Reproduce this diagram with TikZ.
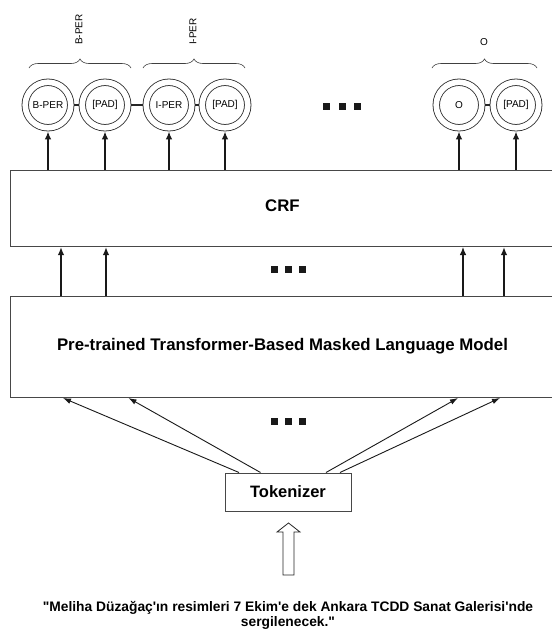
\documentclass[tikz,border=0pt]{standalone}
\usepackage{fontspec}
\setmainfont{Liberation Sans}[Ligatures=TeXOff]
\usetikzlibrary{arrows.meta,decorations.pathreplacing,calc}
\begin{document}
\begin{tikzpicture}[x=1pt,y=-1pt,
  boxline/.style={draw=black!72, line width=1pt},
  bigtext/.style={font=\bfseries\fontsize{16.8}{20}\selectfont, inner sep=0},
  layer/.style={boxline, inner sep=0, anchor=north west},
  tag/.style={circle, draw=black!85, line width=0.8pt, double=white, double distance=5.7pt,
    minimum size=45.5pt, inner sep=0, outer sep=3.6pt, font=\fontsize{10}{12}\selectfont},
  up/.style={draw=black!90, line width=1.6pt, -{Latex[length=8pt,width=6.5pt]}},
  thin up/.style={draw=black!90, line width=0.9pt, -{Latex[length=8pt,width=5.5pt]}},
  link/.style={draw=black!85, line width=1.4pt},
  dot/.style={fill=black!90, minimum size=7pt, inner sep=0},
  grp/.style={draw=black!75, line width=0.6pt, decorate, decoration={brace, amplitude=9pt}},
  grplabel/.style={font=\fontsize{10}{12}\selectfont, inner sep=0}
]
\useasboundingbox (0,0) rectangle (552,630);
\fill[white] (0,0) rectangle (552,630);

% tag circles
\node[tag] (b1) at (48,105) {B-PER};
\node[tag] (p1) at (105,105) {[PAD]};
\node[tag] (i1) at (169,105) {I-PER};
\node[tag] (p2) at (225,105) {[PAD]};
\node[tag] (o1) at (459,105) {O};
\node[tag] (p3) at (516,105) {[PAD]};
\draw[link] (b1) -- (p1);
\draw[link, line width=1.9pt] (p1) -- (i1);
\draw[link] (i1) -- (p2);
\draw[link] (o1) -- (p3);

% dots top
\node[dot] (td1) at (326.5,106) {};
\node[dot] (td2) at (342,106) {};
\node[dot] (td3) at (357,106) {};

% braces
\coordinate (g1a) at (29,68); \coordinate (g1b) at (131,68);
\coordinate (g2a) at (143,68); \coordinate (g2b) at (245,68);
\coordinate (g3a) at (432,68); \coordinate (g3b) at (537,68);
\draw[grp] (g1a) -- (g1b);
\draw[grp] (g2a) -- (g2b);
\draw[grp] (g3a) -- (g3b);
\node[grplabel, rotate=90, anchor=west] (l1) at (79,45) {B-PER};
\node[grplabel, rotate=90, anchor=west] (l2) at (193,45) {I-PER};
\node[grplabel] (l3) at (484,42) {O};

% CRF
\node[layer, minimum width=544pt, minimum height=76pt] (crf) at (10,170) {};
\node[bigtext] (crft) at ($(crf.center)+(0,-3)$) {CRF};
\foreach \n in {b1,p1,i1,p2,o1,p3} \draw[up] (crf.north -| \n) -- (\n.south);

% PLM
\node[layer, minimum width=544pt, minimum height=101pt] (plm) at (10,296) {};
\node[bigtext] (plmt) at ($(plm.center)+(0,-1)$) {Pre-trained Transformer-Based Masked Language Model};
\coordinate (m1) at (61,0); \coordinate (m2) at (106,0);
\coordinate (m3) at (463,0); \coordinate (m4) at (504,0);
\draw[up] (plm.north -| m1) -- (crf.south -| m1);
\draw[up] (plm.north -| m2) -- (crf.south -| m2);
\draw[up, line width=1.1pt] (plm.north -| m3) -- (crf.south -| m3);
\draw[up] (plm.north -| m4) -- (crf.south -| m4);
\node[dot] (md1) at (274.5,269.5) {};
\node[dot] (md2) at (288.5,269.5) {};
\node[dot] (md3) at (302.5,269.5) {};

% Tokenizer
\node[boxline, bigtext, font=\bfseries\fontsize{16.5}{20}\selectfont, minimum width=126pt, minimum height=38pt] (tok) at (288,492) {Tokenizer};
\coordinate (t1) at (239,0); \coordinate (t2) at (260.5,0);
\coordinate (t3) at (326,0); \coordinate (t4) at (340,0);
\coordinate (e1) at (63,0); \coordinate (e2) at (128.5,0);
\coordinate (e3) at (458,0); \coordinate (e4) at (500,0);
\draw[thin up] (tok.north -| t1) -- (plm.south -| e1);
\draw[thin up] (tok.north -| t2) -- (plm.south -| e2);
\draw[thin up] (tok.north -| t3) -- (plm.south -| e3);
\draw[thin up] (tok.north -| t4) -- (plm.south -| e4);
\node[dot] (bd1) at (274.5,421) {};
\node[dot] (bd2) at (288.5,421) {};
\node[dot] (bd3) at (302.5,421) {};

% hollow input arrow
\draw[draw=black!85, line width=0.8pt, fill=white]
  (283,575) -- (283,532) -- (277,532) -- (288.5,523) -- (300,532) -- (294,532) -- (294,575) -- cycle;

% input sentence
\node[font=\bfseries\fontsize{13.8}{15}\selectfont, align=center, inner sep=0] (sent) at (288,615)
  {"Meliha Düzağaç'ın resimleri 7 Ekim'e dek Ankara TCDD Sanat Galerisi'nde\\ sergilenecek."};
\end{tikzpicture}
\end{document}
